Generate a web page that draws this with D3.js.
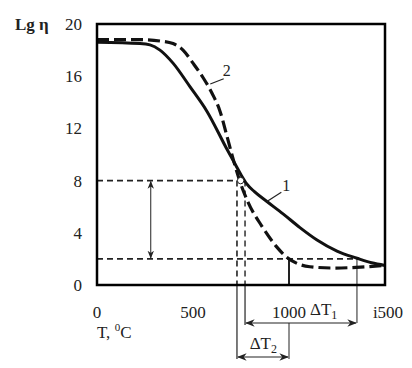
<!DOCTYPE html>
<html><head><meta charset="utf-8">
<script src="https://cdn.jsdelivr.net/npm/d3@7"></script>
<style>body{margin:0;background:#fff}svg{display:block}text{font-family:"Liberation Serif","DejaVu Serif",serif;fill:#222}</style>
</head><body><svg id="c" width="412" height="368"></svg>
<script>
const temps1 = [0, 224, 276, 328, 396, 484, 573, 677, 720, 750, 780, 820, 885, 969, 1057, 1146, 1250, 1354, 1430, 1500];
const lg1    = [18.6, 18.5, 18.4, 18.0, 17.0, 15.2, 13.3, 10.4, 9.25, 8.45, 7.75, 7.15, 6.4, 5.45, 4.4, 3.45, 2.6, 2.05, 1.7, 1.5];
const temps2 = [0, 224, 328, 396, 448, 500, 552, 599, 641, 677, 710, 745, 785, 859, 937, 990, 1042, 1109, 1229, 1406, 1500];
const lg2    = [18.8, 18.8, 18.7, 18.5, 18.0, 17.0, 15.9, 14.7, 13.3, 11.4, 9.6, 7.9, 6.4, 4.5, 2.9, 2.1, 1.65, 1.4, 1.3, 1.4, 1.5];
const xTicks = [0, 500, 1000, 1500];
const xTickLabels = ["0", "500", "1000", "i500"];
const yTicks = [0, 4, 8, 12, 16, 20];
const levelHigh = 8, levelLow = 2;
const tA = 729, tB = 771, tC = 1000, tD = 1354, tCircle = 748;

const svg = d3.select("#c");
const x = d3.scaleLinear().domain([0, 1500]).range([97, 385]);
const y = d3.scaleLinear().domain([0, 20]).range([285, 24]);
const bottom = y(0);

const defs = svg.append("defs");
defs.append("marker").attr("id","ah").attr("viewBox","0 0 10 10").attr("refX",9).attr("refY",5)
  .attr("markerWidth",8).attr("markerHeight",8).attr("orient","auto-start-reverse")
  .append("path").attr("d","M0,1 L10,5 L0,9 L3,5 Z").attr("fill","#222");

// reference dashed lines
const ref = svg.append("g").attr("stroke","#222").attr("fill","none");
ref.append("line").attr("x1",x(0)).attr("x2",x(tA)).attr("y1",y(levelHigh)).attr("y2",y(levelHigh))
  .attr("stroke-width",1.6).attr("stroke-dasharray","6,4");
ref.append("line").attr("x1",x(0)).attr("x2",x(tD)).attr("y1",y(levelLow)).attr("y2",y(levelLow))
  .attr("stroke-width",1.6).attr("stroke-dasharray","6,4");
ref.append("line").attr("x1",x(tA)).attr("x2",x(tA)).attr("y1",y(levelHigh)).attr("y2",bottom)
  .attr("stroke-width",1.6).attr("stroke-dasharray","6,4");
ref.append("line").attr("x1",x(tB)).attr("x2",x(tB)).attr("y1",y(levelHigh)).attr("y2",bottom)
  .attr("stroke-width",1.4).attr("stroke-dasharray","6,4");
ref.append("line").attr("x1",x(tC)).attr("x2",x(tC)).attr("y1",y(levelLow)).attr("y2",bottom).attr("stroke-width",2);
ref.append("line").attr("x1",x(tD)).attr("x2",x(tD)).attr("y1",y(levelLow)).attr("y2",bottom+38).attr("stroke-width",1);
// below axis
ref.append("line").attr("x1",x(tA)).attr("x2",x(tA)).attr("y1",bottom).attr("y2",bottom+74).attr("stroke-width",1.2);
ref.append("line").attr("x1",x(tB)).attr("x2",x(tB)).attr("y1",bottom).attr("y2",bottom+40).attr("stroke-width",1.2);
ref.append("line").attr("x1",x(tC)).attr("x2",x(tC)).attr("y1",bottom+38).attr("y2",bottom+74).attr("stroke-width",1);
// arrows
ref.append("line").attr("x1",x(tB)+1).attr("x2",x(tD)-1).attr("y1",bottom+38).attr("y2",bottom+38)
  .attr("stroke-width",1.2).attr("marker-start","url(#ah)").attr("marker-end","url(#ah)");
ref.append("line").attr("x1",x(tA)+1).attr("x2",x(tC)-1).attr("y1",bottom+72).attr("y2",bottom+72)
  .attr("stroke-width",1.2).attr("marker-start","url(#ah)").attr("marker-end","url(#ah)");
ref.append("line").attr("x1",x(280)).attr("x2",x(280)).attr("y1",y(levelHigh)+1).attr("y2",y(levelLow)-1)
  .attr("stroke-width",1).attr("marker-start","url(#ah)").attr("marker-end","url(#ah)");

// curves
const line = d3.line().x(d => x(d[0])).y(d => y(d[1])).curve(d3.curveMonotoneX);
svg.append("path").datum(temps2.map((t,i)=>[t,lg2[i]])).attr("d",line)
  .attr("fill","none").attr("stroke","#111").attr("stroke-width",3.2).attr("stroke-dasharray","12,5");
svg.append("path").datum(temps1.map((t,i)=>[t,lg1[i]])).attr("d",line)
  .attr("fill","none").attr("stroke","#111").attr("stroke-width",3);

svg.append("circle").attr("cx",x(tCircle)).attr("cy",y(levelHigh)).attr("r",3.2)
  .attr("fill","#fff").attr("stroke","#222").attr("stroke-width",1);

// curve labels
svg.append("line").attr("x1",x(590)).attr("y1",y(15.4)).attr("x2",x(660)).attr("y2",y(15.8)).attr("stroke","#222").attr("stroke-width",1.2);
svg.append("text").attr("x",x(655)).attr("y",y(16.0)).attr("font-size",16).text("2");
svg.append("line").attr("x1",x(885)).attr("y1",y(6.4)).attr("x2",x(960)).attr("y2",y(7.1)).attr("stroke","#222").attr("stroke-width",1.2);
svg.append("text").attr("x",x(965)).attr("y",y(7.2)).attr("font-size",16).text("1");

// frame
svg.append("rect").attr("x",x(0)).attr("y",y(20)).attr("width",x(1500)-x(0)).attr("height",y(0)-y(20))
  .attr("fill","none").attr("stroke","#000").attr("stroke-width",2.5);

// axis labels
const xa = svg.append("g");
xa.selectAll("text").data(xTicks).join("text")
  .attr("x",d=>x(d)+(d===1500?3:0)).attr("y",bottom+33).attr("text-anchor","middle").attr("font-size",17)
  .text((d,i)=>xTickLabels[i]);
const ya = svg.append("g");
ya.selectAll("text").data(yTicks).join("text")
  .attr("x",82).attr("y",d=>y(d)+6).attr("text-anchor","end").attr("font-size",17).text(d=>d);
svg.append("text").attr("x",15).attr("y",y(20)+6).attr("font-size",17).attr("font-weight","bold").text("Lg η");
const tl = svg.append("text").attr("x",97).attr("y",bottom+53).attr("font-size",17);
tl.append("tspan").text("T, ");
tl.append("tspan").attr("font-size",11).attr("dy",-7).text("0");
tl.append("tspan").attr("dy",7).text("C");

function dT(xp, yp, sub){
  const t = svg.append("text").attr("x",xp).attr("y",yp).attr("font-size",17);
  t.append("tspan").text("ΔT");
  t.append("tspan").attr("font-size",12).attr("dy",4).text(sub);
}
dT(310, bottom+30, "1");
dT(x(795), bottom+64, "2");
</script></body></html>
